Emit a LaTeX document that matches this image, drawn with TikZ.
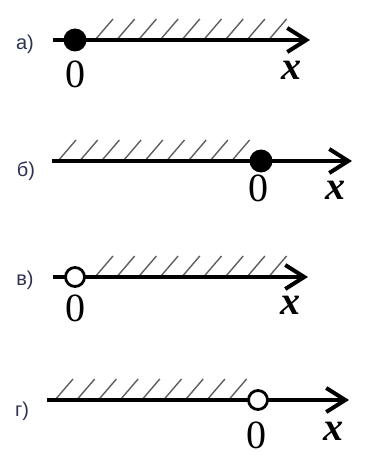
\documentclass[tikz,border=0pt]{standalone}
\usepackage{fontspec}
\setmainfont{Liberation Serif}
\newfontfamily\lblfont{Liberation Sans}
\usetikzlibrary{arrows.meta}
\definecolor{lblcol}{RGB}{45,50,80}
\definecolor{hatchcol}{RGB}{95,95,95}
\begin{document}
\begin{tikzpicture}[x=1pt,y=-1pt,
  axisline/.style={line width=3.4pt, -{Straight Barb[length=19pt,width=24pt,line width=4pt]}},
  hatchline/.style={hatchcol, line width=1.4pt},
  filleddot/.style={circle, fill=black, inner sep=0pt, minimum size=23pt},
  opendot/.style={circle, draw=black, fill=white, line width=2.8pt, inner sep=0pt, minimum size=19pt},
  zero/.style={font=\fontsize{40}{40}\selectfont, inner sep=0pt},
  varx/.style={font=\fontsize{40}{40}\selectfont\bfseries\itshape, inner sep=0pt},
  lbl/.style={font=\lblfont\fontsize{20}{20}\selectfont, text=lblcol, inner sep=0pt}]
\useasboundingbox (0,0) rectangle (376,457);
% panel a
\coordinate (as) at (53,40);
\coordinate (ae) at (310,40);
\foreach \i in {0,...,8} \draw[hatchline] (95+21.7*\i,40) -- ++(18,-21);
\draw[axisline] (as) -- (ae);
\node[filleddot] (ap) at (75,40) {};
\node[zero] (az) at (75,74) {0};
\node[varx] (ax) at (291,70) {x};
\node[lbl] (al) at (25,44) {а)};
% panel b
\coordinate (bs) at (52,161);
\coordinate (be) at (352,161);
\foreach \i in {0,...,8} \draw[hatchline] (58+21.7*\i,161) -- ++(18,-21);
\draw[axisline] (bs) -- (be);
\node[filleddot] (bp) at (261,161) {};
\node[zero] (bz) at (258,188) {0};
\node[varx] (bx) at (335,190) {x};
\node[lbl] (bl) at (26,171) {б)};
% panel c
\coordinate (cs) at (53,277);
\coordinate (ce) at (308,277);
\foreach \i in {0,...,8} \draw[hatchline] (95+21.7*\i,277) -- ++(18,-21);
\draw[axisline] (cs) -- (ce);
\node[opendot] (cp) at (75,277) {};
\node[zero] (cz) at (75,308) {0};
\node[varx] (cx) at (290,305) {x};
\node[lbl] (cl) at (25,280) {в)};
% panel d
\coordinate (ds) at (47,400);
\coordinate (de) at (349,400);
\foreach \i in {0,...,8} \draw[hatchline] (55+21.7*\i,400) -- ++(18,-21);
\draw[axisline] (ds) -- (de);
\node[opendot] (dp) at (258,400) {};
\node[zero] (dz) at (256,435) {0};
\node[varx] (dx) at (333,431) {x};
\node[lbl] (dl) at (22,411) {г)};
\end{tikzpicture}
\end{document}
